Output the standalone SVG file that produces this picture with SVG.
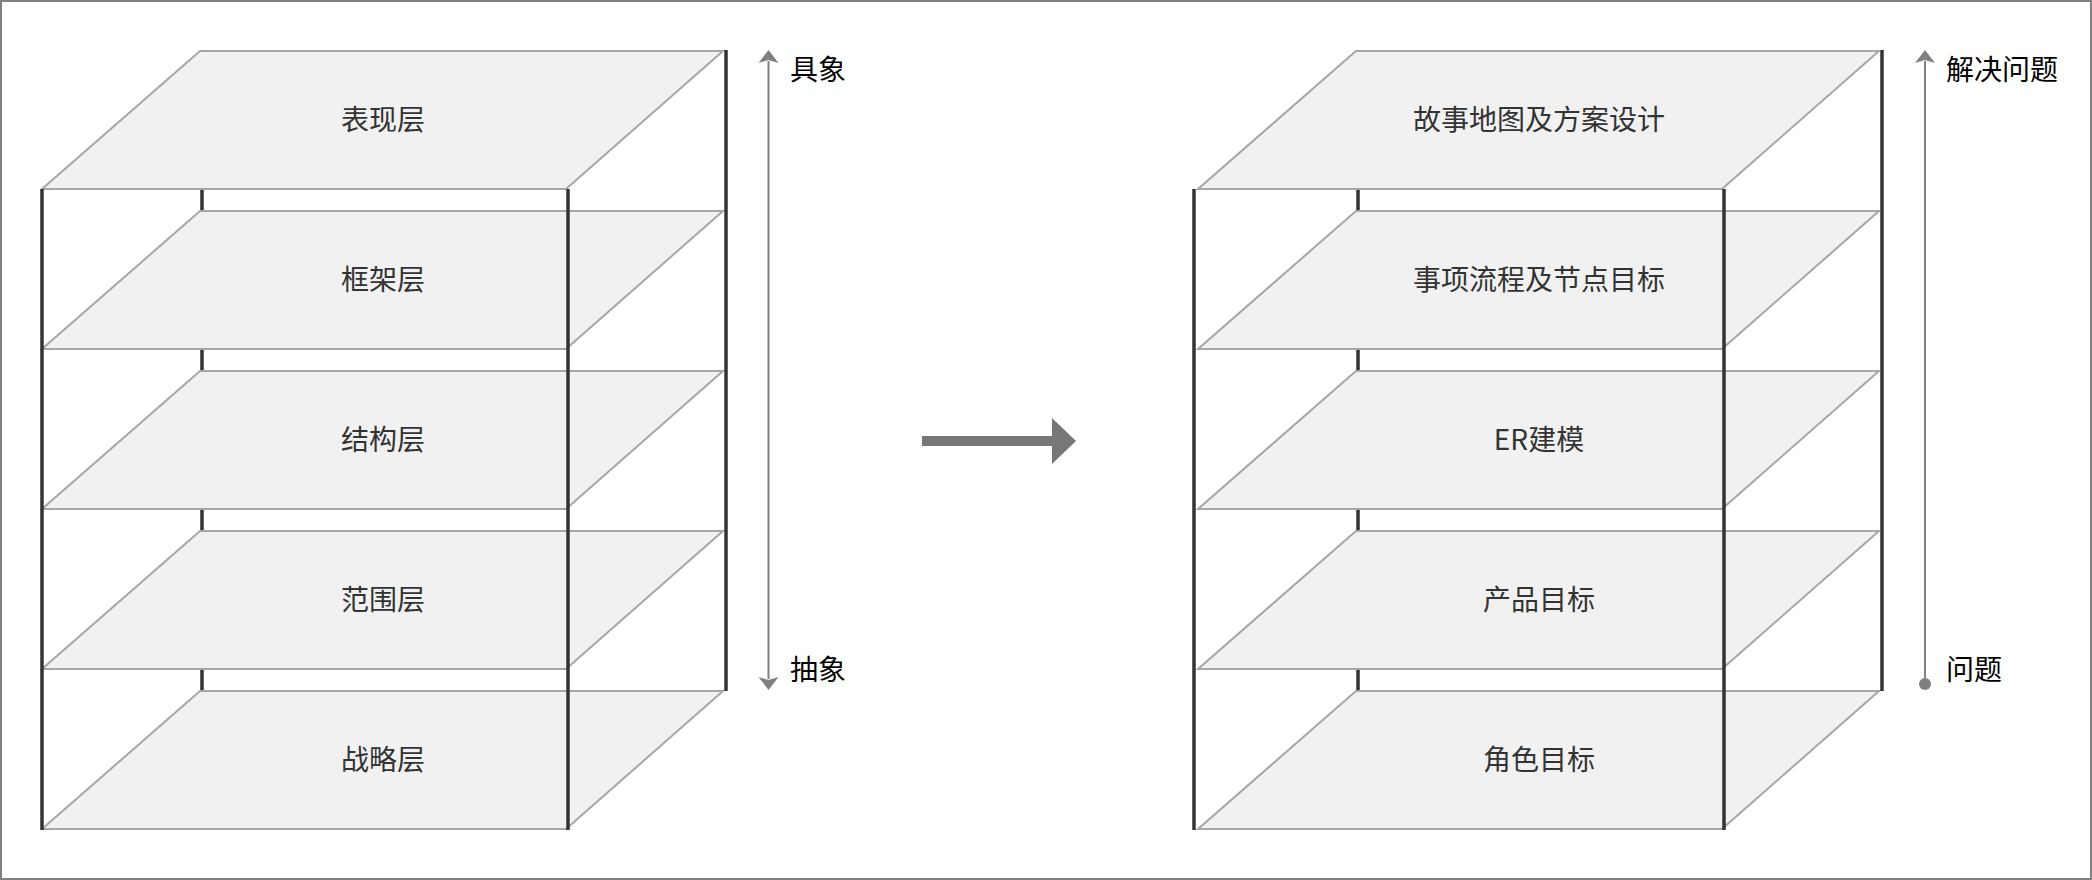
<svg xmlns="http://www.w3.org/2000/svg" width="2092" height="880" viewBox="0 0 2092 880">
  <defs>
    <style>
      .plane { fill: #f1f1f1; stroke: #a6a6a6; stroke-width: 2; stroke-linejoin: miter; }
      .post { stroke: #333333; stroke-width: 3.5; fill: none; }
      .lbl { font-family: "Noto Sans CJK SC", "Noto Sans", sans-serif; font-size: 28px; fill: #333333; text-anchor: middle; dominant-baseline: central; }
      .side { font-family: "Noto Sans CJK SC", "Noto Sans", sans-serif; font-size: 28px; fill: #000000; dominant-baseline: central; }
      .axis { stroke: #808080; stroke-width: 2; fill: none; }
    </style>
    <marker id="head" markerUnits="userSpaceOnUse" markerWidth="30" markerHeight="30" refX="0" refY="0" orient="auto-start-reverse" overflow="visible">
      <path d="M11,0 L-2,-10 L1,0 L-2,10 Z" fill="#808080"/>
    </marker>
    <path id="pl" d="M158,0 L681,0 L524,138 L0,138 Z"/>
  </defs>

  <rect x="1" y="1" width="2090" height="878" fill="#ffffff" stroke="#808080" stroke-width="2"/>

  <!-- Left stack -->
  <g id="left-stack">
    <line class="post" x1="202" y1="51" x2="202" y2="691"/>
    <g id="L5"><use href="#pl" class="plane" x="42" y="691"/><text class="lbl" x="383" y="758">战略层</text></g>
    <g id="L4"><use href="#pl" class="plane" x="42" y="531"/><text class="lbl" x="383" y="598">范围层</text></g>
    <g id="L3"><use href="#pl" class="plane" x="42" y="371"/><text class="lbl" x="383" y="438">结构层</text></g>
    <g id="L2"><use href="#pl" class="plane" x="42" y="211"/><text class="lbl" x="383" y="278">框架层</text></g>
    <g id="L1"><use href="#pl" class="plane" x="42" y="51"/><text class="lbl" x="383" y="118">表现层</text></g>
    <line class="post" x1="42" y1="189" x2="42" y2="830"/>
    <line class="post" x1="568" y1="189" x2="568" y2="830"/>
    <line class="post" x1="726" y1="50" x2="726" y2="691"/>
  </g>

  <!-- Right stack -->
  <g id="right-stack">
    <line class="post" x1="1358" y1="51" x2="1358" y2="691"/>
    <g id="R5"><use href="#pl" class="plane" x="1198" y="691"/><text class="lbl" x="1539" y="758">角色目标</text></g>
    <g id="R4"><use href="#pl" class="plane" x="1198" y="531"/><text class="lbl" x="1539" y="598">产品目标</text></g>
    <g id="R3"><use href="#pl" class="plane" x="1198" y="371"/><text class="lbl" x="1539" y="438">ER建模</text></g>
    <g id="R2"><use href="#pl" class="plane" x="1198" y="211"/><text class="lbl" x="1539" y="278">事项流程及节点目标</text></g>
    <g id="R1"><use href="#pl" class="plane" x="1198" y="51"/><text class="lbl" x="1539" y="118">故事地图及方案设计</text></g>
    <line class="post" x1="1194" y1="189" x2="1194" y2="830"/>
    <line class="post" x1="1724" y1="189" x2="1724" y2="830"/>
    <line class="post" x1="1882" y1="50" x2="1882" y2="691"/>
  </g>

  <!-- Connectors -->
  <g id="connectors">
    <line class="axis" x1="768.5" y1="61" x2="768.5" y2="679" marker-start="url(#head)" marker-end="url(#head)"/>
    <line class="axis" x1="1925" y1="61" x2="1925" y2="684" marker-start="url(#head)"/>
    <circle cx="1925" cy="684" r="6" fill="#808080"/>
    <g id="big-arrow" fill="#777777">
      <rect x="922" y="436" width="131" height="10"/>
      <path d="M1052,418 L1076,441 L1052,464 Z"/>
    </g>
  </g>

  <!-- Axis labels -->
  <g id="labels">
    <text class="side" x="790" y="68">具象</text>
    <text class="side" x="790" y="668">抽象</text>
    <text class="side" x="1946" y="68">解决问题</text>
    <text class="side" x="1946" y="668">问题</text>
  </g>
</svg>
